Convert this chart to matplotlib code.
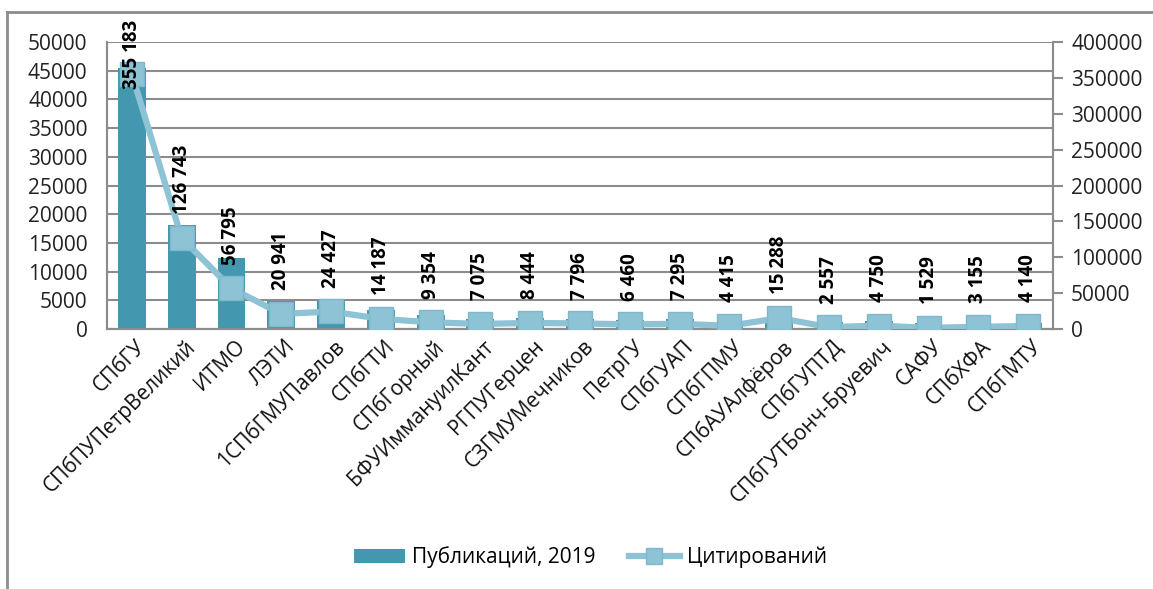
import matplotlib.pyplot as plt
import matplotlib.transforms as mtransforms
from matplotlib.lines import Line2D
import numpy as np

universities = ['СПбГУ', 'СПбПУПетрВеликий', 'ИТМО', 'ЛЭТИ', '1СПбГМУПавлов',
                'СПбГТИ', 'СПбГорный', 'БФУИммануилКант', 'РГПУГерцен',
                'СЗГМУМечников', 'ПетрГУ', 'СПбГУАП', 'СПбГПМУ', 'СПбАУАлфёров',
                'СПбГУПТД', 'СПбГУТБонч-Бруевич', 'САФУ', 'СПбХФА', 'СПбГМТУ']
publications = [45500, 18100, 12400, 4800, 4800, 3300, 2400, 1700, 2000,
                1800, 1500, 1800, 1100, 1200, 1300, 1400, 1000, 800, 1100]
citations = [355183, 126743, 56795, 20941, 24427, 14187, 9354, 7075, 8444,
             7796, 6460, 7295, 4415, 15288, 2557, 4750, 1529, 3155, 4140]

bar_color = '#4397AF'
line_color = '#8DC3D4'
grid_color = '#8C8C8C'

plt.rcParams['font.family'] = ['Open Sans', 'DejaVu Sans']

fig = plt.figure(figsize=(11.53, 5.89), dpi=100)
ax = fig.add_axes([0.0928, 0.4414, 0.8205, 0.4873])
ax2 = ax.twinx()

x = np.arange(len(universities))
ax.bar(x, publications, width=0.56, color=bar_color, zorder=2,
       label='Публикаций, 2019')
ax.set_ylim(0, 50000)
ax.set_yticks(np.arange(0, 50001, 5000))
ax.set_xlim(-0.5, len(universities) - 0.5)
ax.yaxis.grid(True, color=grid_color, linewidth=1.5, zorder=0)
ax.set_axisbelow(True)
ax.tick_params(axis='y', length=0, labelsize=15, pad=14, colors='#222222')
ax.tick_params(axis='x', length=0, pad=5)
ax.set_xticks(x)
ax.set_xticklabels(universities, rotation=45, ha='right',
                   rotation_mode='anchor', fontsize=15, color='#111111')
shift = mtransforms.ScaledTranslation(3 / 100, 0, fig.dpi_scale_trans)
for lab in ax.get_xticklabels():
    lab.set_transform(lab.get_transform() + shift)

ax2.plot(x, citations, color=line_color, linewidth=4.5, marker='s',
         markersize=17, markerfacecolor=line_color,
         markeredgecolor='#7DB8CB', markeredgewidth=1, zorder=3,
         label='Цитирований')
ax2.set_ylim(0, 400000)
ax2.set_yticks(np.arange(0, 400001, 50000))
ax2.tick_params(axis='y', direction='out', length=7, width=1.5,
                color=grid_color, labelsize=15, pad=6, labelcolor='#222222')

for a in (ax, ax2):
    for side in ('left', 'right', 'bottom', 'top'):
        a.spines[side].set_color(grid_color)
        a.spines[side].set_linewidth(1.5)
    a.spines['top'].set_visible(False)

blend = mtransforms.blended_transform_factory(ax2.transData, ax2.transAxes)
for i, v in enumerate(citations):
    label = f'{v:,}'.replace(',', ' ')
    if v > 300000:
        ax2.text(i, 1.077, label, transform=blend, rotation=90, ha='center',
                 va='top', fontsize=13.5, fontweight='bold', zorder=5)
    else:
        ax2.annotate(label, (i, v), xytext=(0, 17), textcoords='offset points',
                     rotation=90, ha='center', va='bottom', fontsize=13.5,
                     fontweight='bold', zorder=5)

h1, l1 = ax.get_legend_handles_labels()
h2, l2 = ax2.get_legend_handles_labels()
fig.legend(h1 + h2, l1 + l2, loc='center', bbox_to_anchor=(0.512, 0.054),
           ncol=2, frameon=False, fontsize=15, handlelength=2.45,
           columnspacing=1.6, handletextpad=0.33, markerscale=0.65)

# outer frame: only left and top edges are visible in the picture
fig.add_artist(Line2D([7 / 1153, 7 / 1153], [0, 1 - 12 / 589],
                      transform=fig.transFigure, color=grid_color, linewidth=2))
fig.add_artist(Line2D([7 / 1153, 1], [1 - 12 / 589, 1 - 12 / 589],
                      transform=fig.transFigure, color=grid_color, linewidth=2))

fig.savefig('out.png', dpi=100)
